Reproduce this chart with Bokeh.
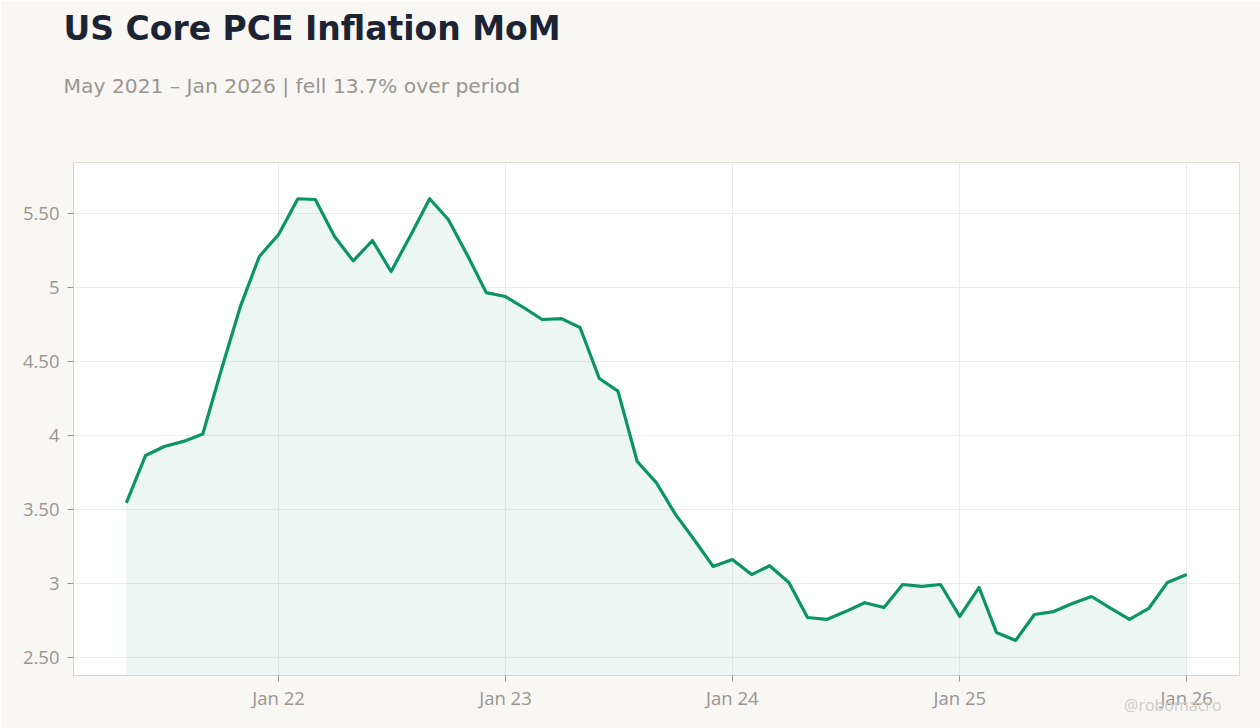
from datetime import datetime
import pandas as pd
from bokeh.plotting import figure
from bokeh.models import Range1d, FixedTicker, DatetimeTickFormatter, Title, ColumnDataSource
from bokeh.embed import file_html
from bokeh.resources import INLINE

# ---- data ----
months = pd.date_range("2021-05-01", "2026-01-01", freq="MS")
values = [
    3.545, 3.865, 3.926, 3.96, 4.01, 4.446, 4.878, 5.21,
    5.358, 5.60, 5.595, 5.345, 5.18, 5.318, 5.108, 5.35, 5.60, 5.46, 5.216, 4.966,
    4.939, 4.86, 4.784, 4.79, 4.73, 4.385, 4.30, 3.824, 3.68, 3.47, 3.294, 3.115,
    3.162, 3.06, 3.12, 3.007, 2.77, 2.757, 2.81, 2.87, 2.838, 2.993, 2.98, 2.993,
    2.777, 2.973, 2.669, 2.615, 2.79, 2.81, 2.865, 2.912, 2.831, 2.757, 2.831, 3.007,
    3.06,
]
y_ticks = [2.5, 3.0, 3.5, 4.0, 4.5, 5.0, 5.5]
y_tick_labels = ["2.50", "3", "3.50", "4", "4.50", "5", "5.50"]
x_tick_years = [2022, 2023, 2024, 2025, 2026]

title_text = "US Core PCE Inflation MoM"
subtitle_text = "May 2021 \u2013 Jan 2026 | fell 13.7% over period"
watermark_text = "@robomacro"

# ---- styling ----
BG = "#f8f7f4"
GREEN = "#0b9467"
TICK_FONT = "Open Sans"
TICK_COLOR = "#9a9590"

y_start, y_end = 2.378, 5.845
x_start, x_end = datetime(2021, 2, 5), datetime(2026, 3, 27)

src = ColumnDataSource(dict(x=list(months), y=values, base=[y_start] * len(values)))

p = figure(
    width=1260, height=728,
    x_axis_type="datetime",
    x_range=Range1d(x_start, x_end),
    y_range=Range1d(y_start, y_end),
    output_backend="svg", toolbar_location=None,
    min_border_left=73, min_border_right=21, min_border_top=162, min_border_bottom=53,
)
p.border_fill_color = BG
p.background_fill_color = "white"
p.outline_line_color = "#e2ddd4"
p.outline_line_width = 1

p.varea(x="x", y1="base", y2="y", source=src, fill_color=GREEN, fill_alpha=0.08)
p.line(x="x", y="y", source=src, line_color=GREEN, line_width=3.2, line_join="round")

# axes
p.yaxis.ticker = FixedTicker(ticks=y_ticks)
p.yaxis.major_label_overrides = {t: l for t, l in zip(y_ticks, y_tick_labels)}
tick_ms = [datetime(yr, 1, 1).timestamp() * 1000 for yr in x_tick_years]
p.xaxis.ticker = FixedTicker(ticks=tick_ms)
p.xaxis.formatter = DatetimeTickFormatter(days="%b %y", months="%b %y", years="%b %y")

for ax in (p.xaxis[0], p.yaxis[0]):
    ax.axis_line_color = "#d6d2cc"
    ax.major_tick_line_color = TICK_COLOR
    ax.major_tick_out = 6
    ax.major_tick_in = 0
    ax.minor_tick_line_color = None
    ax.major_label_text_font = TICK_FONT
    ax.major_label_text_font_size = "18.5px"
    ax.major_label_text_color = TICK_COLOR
p.yaxis.major_label_standoff = 8
p.xaxis.major_label_standoff = 3

p.xgrid.grid_line_color = "#ececec"
p.ygrid.grid_line_color = "#ececec"
p.xgrid.ticker = FixedTicker(ticks=tick_ms)
p.ygrid.ticker = FixedTicker(ticks=y_ticks)

# header (stacked from the plot upward: subtitle, then title)
p.add_layout(Title(text=subtitle_text, text_font="DejaVu Sans", text_font_size="20.3px",
                   text_font_style="normal", text_color=TICK_COLOR, align="left",
                   offset=-10, standoff=129), "above")
p.add_layout(Title(text=title_text, text_font="DejaVu Sans", text_font_size="33px",
                   text_font_style="bold", text_color="#1c2434", align="left",
                   offset=-10, standoff=-81), "above")
p.add_layout(Title(text=watermark_text, text_font=TICK_FONT, text_font_size="16px",
                   text_font_style="normal", text_color="#cfcbc6", align="right",
                   vertical_align="top", offset=18, standoff=-38), "below")

open("out.html", "w").write(file_html(p, INLINE))
